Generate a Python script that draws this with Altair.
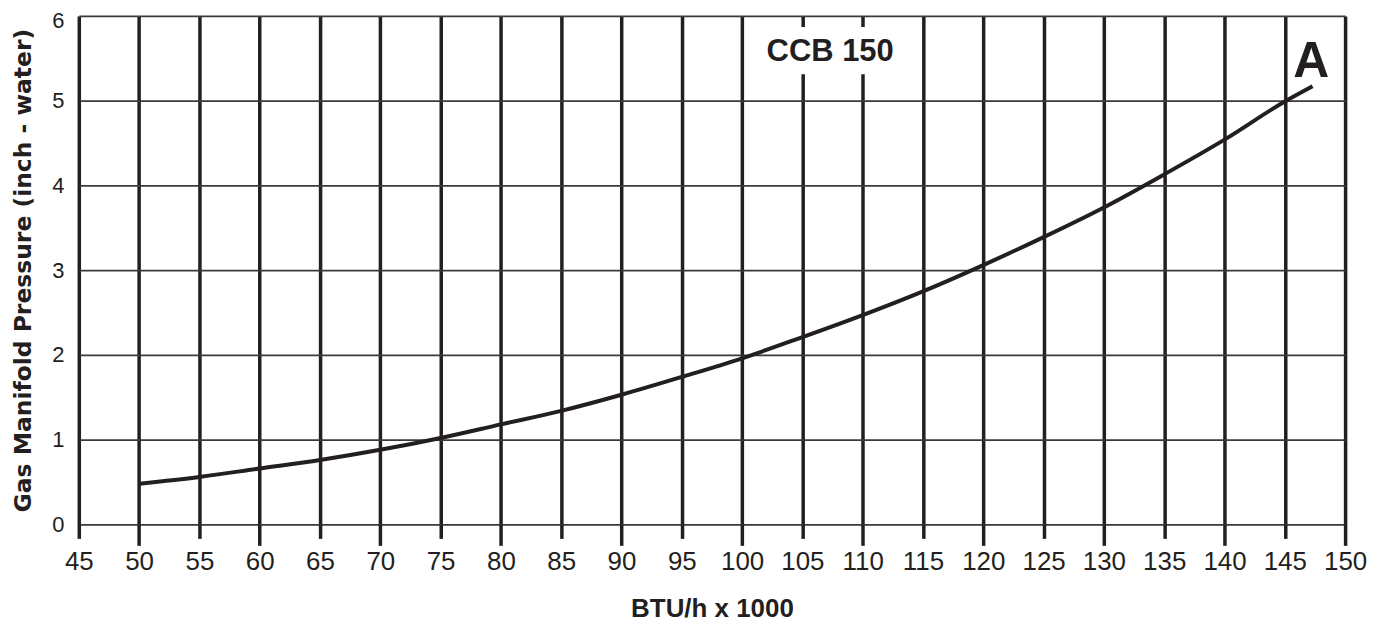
import altair as alt
import pandas as pd

btu = [50, 55, 60, 65, 70, 75, 80, 85, 90, 95, 100, 105, 110, 115, 120, 125, 130, 135, 140, 145, 147.3]
pressure = [0.48, 0.56, 0.66, 0.76, 0.88, 1.02, 1.18, 1.34, 1.53, 1.74, 1.96, 2.21, 2.47, 2.75, 3.06, 3.39, 3.74, 4.13, 4.54, 4.99, 5.17]

x_ticks = list(range(45, 151, 5))
y_ticks = [0, 1, 2, 3, 4, 5, 6]

label_text = ["CCB 150"]
label_x = [107.3]
label_y = [5.57]
box_x = [101.3]
box_x2 = [113.3]
box_y = [5.31]
box_y2 = [5.87]

letter_text = ["A"]
letter_x = [147.2]
letter_y = [5.45]

INK = "#231f20"
FONT = "Liberation Sans, Arial, sans-serif"

curve_df = pd.DataFrame({"btu": btu, "p": pressure})
box_df = pd.DataFrame({"x": box_x, "x2": box_x2, "y": box_y, "y2": box_y2})
label_df = pd.DataFrame({"x": label_x, "y": label_y, "t": label_text})
letter_df = pd.DataFrame({"x": letter_x, "y": letter_y, "t": letter_text})

xscale = alt.Scale(domain=[45, 150], nice=False, zero=False)
yscale = alt.Scale(domain=[0, 6], nice=False, zero=False)

xaxis = alt.Axis(
    values=x_ticks, format="d", grid=True, gridColor=INK, gridWidth=3.5, gridOpacity=1,
    domain=False, ticks=True, tickColor=INK, tickWidth=3.5,
    tickSize={"condition": {"test": "datum.value % 10 === 0", "value": 21}, "value": 14},
    labelPadding={"condition": {"test": "datum.value % 10 === 0", "value": 3}, "value": 10},
    labelFont=FONT, labelFontSize=26, labelColor=INK,
    title="BTU/h x 1000", titleFont=FONT, titleFontSize=26, titleFontWeight="bold",
    titleColor=INK, titlePadding=21, labelFlush=False,
)
yaxis = alt.Axis(
    values=y_ticks, format="d", grid=True, gridColor="#3a3a3a", gridWidth=1.8, gridOpacity=1,
    domain=False, ticks=False, labelFont=FONT, labelFontSize=22, labelColor=INK,
    labelPadding=15, labelFlush=False,
    labelOffset={"condition": {"test": "datum.value === 6", "value": 5}, "value": 0},
    title="Gas Manifold Pressure (inch - water)", titleFont="DejaVu Sans",
    titleFontSize=23.5, titleFontWeight="bold", titleColor=INK, titlePadding=16,
)

curve = alt.Chart(curve_df).mark_line(
    color=INK, strokeWidth=4, interpolate="monotone"
).encode(
    x=alt.X("btu:Q", scale=xscale, axis=xaxis),
    y=alt.Y("p:Q", scale=yscale, axis=yaxis),
)

box = alt.Chart(box_df).mark_rect(color="white").encode(
    x=alt.X("x:Q", scale=xscale), x2="x2:Q",
    y=alt.Y("y:Q", scale=yscale), y2="y2:Q",
)

label = alt.Chart(label_df).mark_text(
    font=FONT, fontSize=31, fontWeight="bold", color=INK,
    align="center", baseline="middle",
).encode(x=alt.X("x:Q", scale=xscale), y=alt.Y("y:Q", scale=yscale), text="t:N")

letter = alt.Chart(letter_df).mark_text(
    font=FONT, fontSize=50, fontWeight="bold", color=INK,
    align="center", baseline="middle",
).encode(x=alt.X("x:Q", scale=xscale), y=alt.Y("y:Q", scale=yscale), text="t:N")

chart = alt.layer(curve, box, label, letter).properties(
    width=1270, height=510,
    autosize=alt.AutoSizeParams(type="none"),
    padding={"left": 71, "top": 7, "right": 35, "bottom": 105},
).configure_view(stroke=None).configure(background="white")

chart.save("out.html", embed_options={"renderer": "svg", "actions": False})
